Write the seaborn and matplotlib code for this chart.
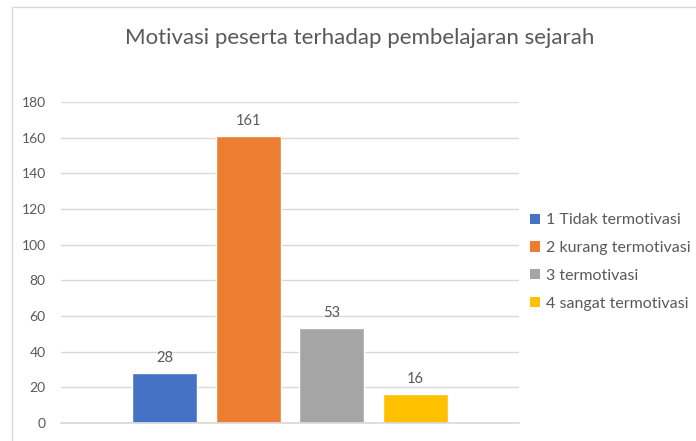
import matplotlib
matplotlib.use("Agg")
import matplotlib.pyplot as plt
import seaborn as sns
import pandas as pd
from matplotlib.patches import Patch, Rectangle

# Données
kategori = ["1 Tidak termotivasi", "2 kurang termotivasi", "3 termotivasi", "4 sangat termotivasi"]
jumlah = [28, 161, 53, 16]
warna = ["#4472C4", "#ED7D31", "#A5A5A5", "#FFC000"]
yticks = [0, 20, 40, 60, 80, 100, 120, 140, 160, 180]

sns.set_theme(style="white")
plt.rcParams["font.family"] = ["Lato", "DejaVu Sans"]
teks = "#595959"

df = pd.DataFrame({"grup": [""] * len(kategori), "kategori": kategori, "jumlah": jumlah})

W, H = 696, 441
fig = plt.figure(figsize=(W / 100, H / 100), dpi=100)
ax = fig.add_axes([61 / W, 18 / H, (519 - 61) / W, (423 - 102) / H])

sns.barplot(data=df, x="grup", y="jumlah", hue="kategori", palette=warna,
            width=0.73, gap=0.22, saturation=1, legend=False, ax=ax)

for c in ax.containers:
    ax.bar_label(c, padding=6, fontsize=10.5, color=teks)

ax.set_ylim(0, 180)
ax.set_yticks(yticks)
ax.set_xlim(-0.5, 0.5)
ax.set_xticks([])
ax.set_xlabel("")
ax.set_ylabel("")
ax.yaxis.grid(True, color="#d9d9d9", linewidth=1)
ax.set_axisbelow(True)
for s in ["top", "right", "left"]:
    ax.spines[s].set_visible(False)
ax.spines["bottom"].set_color("#d9d9d9")
ax.tick_params(axis="y", length=0, pad=11, labelsize=10, labelcolor=teks)

fig.text(360 / W, 1 - 38 / H, "Motivasi peserta terhadap pembelajaran sejarah",
         ha="center", va="center", fontsize=16, color=teks)

handles = [Patch(facecolor=c, edgecolor="none") for c in warna]
fig.legend(handles, kategori, loc="upper left", bbox_to_anchor=(524 / W, 1 - 207 / H),
           frameon=False, fontsize=11.5, labelcolor=teks, handlelength=0.6, handleheight=0.6,
           handletextpad=0.35, labelspacing=0.86, borderaxespad=0)

# bingkai grafik
fig.patches.append(Rectangle((12 / W, -0.01), 1, 1 - 7 / H + 0.01, transform=fig.transFigure,
                             fill=False, edgecolor="#d9d9d9", linewidth=1))

fig.savefig("out.png", dpi=100)
